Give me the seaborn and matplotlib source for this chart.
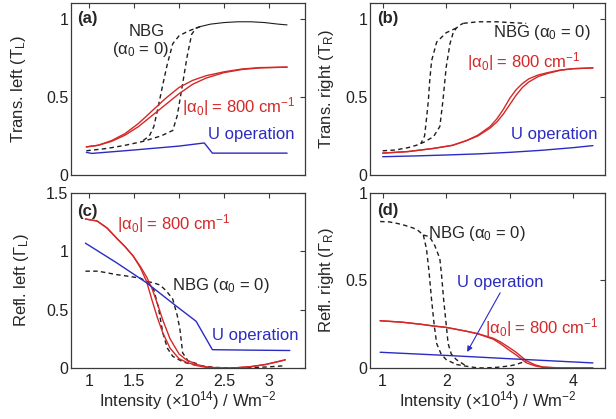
import matplotlib

matplotlib.use("Agg")

import matplotlib.pyplot as plt
import seaborn as sns

# -----------------------------
# Style
# -----------------------------
sns.set_style("white")
plt.rcParams["font.family"] = ["Liberation Sans", "DejaVu Sans"]
plt.rcParams["mathtext.fontset"] = "custom"
plt.rcParams["mathtext.rm"] = "Liberation Sans"
plt.rcParams["mathtext.it"] = "Liberation Sans:italic"
plt.rcParams["mathtext.bf"] = "Liberation Sans:bold"
plt.rcParams["mathtext.default"] = "regular"

RED = "#d42828"
BLUE = "#2b2bc4"
BLACK = "#1e1e1e"
FRAME = "#3a3a3a"

# -----------------------------
# Data
# -----------------------------
# (a) transmission left
a_nbg_up_x = [0.97, 1.2, 1.4, 1.6, 1.8, 1.93, 1.98, 2.04, 2.09, 2.14, 2.19, 2.24]
a_nbg_up_y = [0.155, 0.17, 0.19, 0.215, 0.25, 0.285, 0.38, 0.585, 0.76, 0.90, 0.94, 0.95]
a_nbg_dn_x = [2.24, 2.1, 2.0, 1.93, 1.87, 1.82, 1.77, 1.72, 1.67, 1.6]
a_nbg_dn_y = [0.95, 0.92, 0.89, 0.84, 0.71, 0.58, 0.44, 0.31, 0.25, 0.22]
a_nbg_top_x = [2.24, 2.35, 2.5, 2.65, 2.8, 2.95, 3.1, 3.2]
a_nbg_top_y = [0.95, 0.965, 0.975, 0.98, 0.98, 0.975, 0.965, 0.96]
a_red_x = [0.97, 1.1, 1.25, 1.4, 1.55, 1.7, 1.85, 2.0, 2.15, 2.3, 2.5, 2.7, 2.9, 3.2]
a_red_up_y = [0.18, 0.19, 0.215, 0.255, 0.31, 0.38, 0.45, 0.52, 0.58, 0.62, 0.655, 0.675, 0.685, 0.69]
a_red_dn_y = [0.18, 0.19, 0.22, 0.265, 0.33, 0.41, 0.49, 0.56, 0.605, 0.635, 0.66, 0.678, 0.687, 0.69]
a_blue_x = [0.97, 1.03, 1.5, 2.0, 2.28, 2.37, 2.8, 3.2]
a_blue_y = [0.145, 0.138, 0.16, 0.185, 0.205, 0.14, 0.14, 0.14]

# (b) transmission right
b_nbg_up_x = [1.0, 1.2, 1.4, 1.53, 1.65, 1.8, 1.9, 1.95, 2.0, 2.06, 2.11, 2.16, 2.22, 2.27]
b_nbg_up_y = [0.155, 0.16, 0.175, 0.19, 0.21, 0.245, 0.31, 0.48, 0.69, 0.84, 0.91, 0.94, 0.96, 0.97]
b_nbg_dn_x = [2.16, 2.0, 1.85, 1.77, 1.74, 1.72, 1.69, 1.66, 1.6]
b_nbg_dn_y = [0.94, 0.91, 0.85, 0.73, 0.6, 0.48, 0.36, 0.25, 0.2]
b_nbg_top_x = [2.27, 2.5, 2.8, 3.0, 3.26]
b_nbg_top_y = [0.97, 0.98, 0.98, 0.975, 0.97]
b_red_x = [1.0, 1.4, 1.8, 2.1, 2.32, 2.5, 2.69, 2.8, 2.9, 3.0, 3.1, 3.2, 3.3, 3.45, 3.6, 3.8, 4.0, 4.31]
b_red_up_y = [0.14, 0.15, 0.17, 0.19, 0.22, 0.25, 0.30, 0.34, 0.39, 0.45, 0.51, 0.56, 0.595, 0.63, 0.65, 0.67, 0.68, 0.685]
b_red_dn_y = [0.14, 0.15, 0.17, 0.19, 0.22, 0.255, 0.31, 0.36, 0.42, 0.49, 0.545, 0.585, 0.615, 0.64, 0.655, 0.672, 0.68, 0.685]
b_blue_x = [1.0, 1.5, 2.0, 2.5, 3.0, 3.5, 4.0, 4.31]
b_blue_y = [0.117, 0.122, 0.128, 0.135, 0.145, 0.158, 0.175, 0.188]

# (c) reflection left
c_red_x = [0.96, 1.09, 1.2, 1.31, 1.4, 1.49, 1.57, 1.64, 1.7, 1.76, 1.82, 1.9, 2.0, 2.08, 2.2, 2.3,
           2.45, 2.6, 2.8, 2.96, 3.1, 3.18]
c_red_up_y = [1.277, 1.26, 1.2, 1.11, 1.04, 0.96, 0.86, 0.74, 0.58, 0.43, 0.30, 0.17, 0.08, 0.05,
              0.02, 0.006, 0.0, 0.0, 0.012, 0.03, 0.055, 0.07]
c_red_dn_y = [1.277, 1.26, 1.2, 1.11, 1.04, 0.96, 0.87, 0.78, 0.68, 0.55, 0.41, 0.25, 0.12, 0.07,
              0.03, 0.01, 0.0, 0.0, 0.012, 0.03, 0.055, 0.07]
c_blue_x = [0.96, 1.31, 1.64, 1.97, 2.19, 2.37, 2.8, 3.23]
c_blue_y = [1.07, 0.90, 0.73, 0.53, 0.40, 0.157, 0.153, 0.15]
c_nbg_x = [0.96, 1.1, 1.31, 1.45, 1.57, 1.65]
c_nbg_y = [0.83, 0.83, 0.80, 0.785, 0.77, 0.74]
c_nbg_a_x = [1.65, 1.72, 1.77, 1.82, 1.87, 1.93, 2.05, 2.15]
c_nbg_a_y = [0.74, 0.67, 0.52, 0.30, 0.17, 0.10, 0.05, 0.03]
c_nbg_b_x = [1.65, 1.72, 1.79, 1.86, 1.93, 1.98, 2.01, 2.04, 2.1, 2.23]
c_nbg_b_y = [0.74, 0.73, 0.71, 0.66, 0.59, 0.45, 0.33, 0.13, 0.06, 0.03]
c_nbg_tail_x = [2.15, 2.23, 2.4, 2.6, 2.8, 3.0, 3.18]
c_nbg_tail_y = [0.03, 0.02, 0.005, 0.0, 0.003, 0.01, 0.02]

# (d) reflection right
d_nbg_x = [0.96, 1.1, 1.22, 1.35, 1.48, 1.56, 1.64]
d_nbg_y = [0.837, 0.835, 0.827, 0.815, 0.80, 0.785, 0.76]
d_nbg_a_x = [1.64, 1.69, 1.73, 1.77, 1.81, 1.85, 1.92, 2.0, 2.16]
d_nbg_a_y = [0.76, 0.68, 0.55, 0.39, 0.25, 0.14, 0.08, 0.048, 0.02]
d_nbg_b_x = [1.64, 1.74, 1.82, 1.90, 1.93, 1.96, 2.0, 2.03, 2.08, 2.16, 2.32]
d_nbg_b_y = [0.76, 0.75, 0.70, 0.625, 0.52, 0.39, 0.25, 0.14, 0.08, 0.048, 0.01]
d_nbg_tail_x = [2.16, 2.32, 2.45, 2.58, 2.8, 3.0, 3.1, 3.26]
d_nbg_tail_y = [0.02, 0.01, 0.003, 0.0, 0.004, 0.012, 0.02, 0.04]
d_red_x = [0.96, 1.3, 1.6, 1.8, 2.0, 2.32, 2.5, 2.74, 2.85, 3.0, 3.1, 3.26, 3.4, 3.52, 3.8, 4.31]
d_red_up_y = [0.27, 0.262, 0.25, 0.24, 0.232, 0.21, 0.195, 0.165, 0.14, 0.10, 0.075, 0.03, 0.012,
              0.004, 0.0, 0.0]
d_red_dn_y = [0.27, 0.262, 0.25, 0.24, 0.232, 0.21, 0.196, 0.17, 0.15, 0.115, 0.09, 0.042, 0.018,
              0.006, 0.0, 0.0]
d_blue_x = [0.96, 2.0, 3.0, 4.31]
d_blue_y = [0.09, 0.072, 0.053, 0.029]

# axis ticks / labels
xticks_left = [1, 1.5, 2, 2.5, 3]
xticks_right = [1, 2, 3, 4]
yticks_trans = [0, 0.5, 1]
yticks_refl_left = [0, 0.5, 1, 1.5]
yticks_refl_right = [0, 0.5, 1]

XLABEL = "Intensity (×10$^{14}$) / Wm$^{-2}$"
NBG = "NBG (α$_{0}$ = 0)"
ALPHA = "|α$_{0}$| = 800 cm$^{-1}$"
UOP = "U operation"


def line(ax, x, y, color, lw=1.0, dashed=False):
    sns.lineplot(x=x, y=y, ax=ax, color=color, lw=lw, sort=False, estimator=None)
    ln = ax.lines[-1]
    if dashed:
        ln.set_dashes((3.2, 2.4))
    return ln


def style(ax, xlim, ylim, xt, yt, ylabel, xlabel=None, ylab_x=-0.17):
    ax.set_xlim(*xlim)
    ax.set_ylim(*ylim)
    ax.set_xticks(xt)
    ax.set_yticks(yt)
    ax.set_yticklabels([f"{v:g}" for v in yt])
    if xlabel:
        ax.set_xticklabels([f"{v:g}" for v in xt])
        ax.set_xlabel(xlabel, fontsize=12)
        ax.xaxis.set_label_coords(0.5, -0.118)
    else:
        ax.set_xticklabels([])
    ax.set_ylabel(ylabel, fontsize=12)
    ax.yaxis.set_label_coords(ylab_x, 0.5)
    ax.tick_params(direction="in", top=True, right=True, length=3.5, width=0.8,
                   color=FRAME, labelsize=11.5, labelcolor="#222222")
    ax.tick_params(axis="x", pad=4)
    ax.tick_params(axis="y", pad=2)
    for s in ax.spines.values():
        s.set_color(FRAME)
        s.set_linewidth(0.9)


fig = plt.figure(figsize=(6.16, 4.19), dpi=100)
ax_a = fig.add_axes([0.1153, 0.5823, 0.380, 0.4105])
ax_b = fig.add_axes([0.6006, 0.5823, 0.3815, 0.4105])
ax_c = fig.add_axes([0.1153, 0.1217, 0.380, 0.4177])
ax_d = fig.add_axes([0.6006, 0.1217, 0.3815, 0.4177])

# ---- (a)
line(ax_a, a_nbg_up_x, a_nbg_up_y, BLACK, dashed=True)
line(ax_a, a_nbg_dn_x, a_nbg_dn_y, BLACK, dashed=True)
line(ax_a, a_nbg_top_x, a_nbg_top_y, BLACK, lw=0.8)
line(ax_a, a_red_x, a_red_up_y, RED)
line(ax_a, a_red_x, a_red_dn_y, RED)
line(ax_a, a_blue_x, a_blue_y, BLUE)
style(ax_a, (0.8, 3.4), (0, 1.1), xticks_left, yticks_trans,
      "Trans. left (T$_{L}$)", ylab_x=-0.184)
ax_a.text(0.865, 1.0, "(a)", fontsize=12, fontweight="bold", va="center")
ax_a.text(1.64, 0.915, "NBG", fontsize=12, ha="center", va="center")
ax_a.text(1.57, 0.80, "(α$_{0}$ = 0)", fontsize=12, ha="center", va="center")
ax_a.text(2.03, 0.435, ALPHA, fontsize=12, color=RED, va="center")
ax_a.text(2.32, 0.256, UOP, fontsize=12, color=BLUE, va="center")

# ---- (b)
line(ax_b, b_nbg_up_x, b_nbg_up_y, BLACK, dashed=True)
line(ax_b, b_nbg_dn_x, b_nbg_dn_y, BLACK, dashed=True)
line(ax_b, b_nbg_top_x, b_nbg_top_y, BLACK, dashed=True)
line(ax_b, b_red_x, b_red_up_y, RED)
line(ax_b, b_red_x, b_red_dn_y, RED)
line(ax_b, b_blue_x, b_blue_y, BLUE)
style(ax_b, (0.8, 4.5), (0, 1.1), xticks_right, yticks_trans,
      "Trans. right (T$_{R}$)", ylab_x=-0.145)
ax_b.text(0.91, 1.0, "(b)", fontsize=12, fontweight="bold", va="center")
ax_b.text(2.74, 0.91, NBG, fontsize=12, va="center")
ax_b.text(2.33, 0.725, ALPHA, fontsize=12, color=RED, va="center")
ax_b.text(3.02, 0.256, UOP, fontsize=12, color=BLUE, va="center")

# ---- (c)
line(ax_c, c_nbg_x, c_nbg_y, BLACK, dashed=True)
line(ax_c, c_nbg_a_x, c_nbg_a_y, BLACK, dashed=True)
line(ax_c, c_nbg_b_x, c_nbg_b_y, BLACK, dashed=True)
line(ax_c, c_nbg_tail_x, c_nbg_tail_y, BLACK, dashed=True)
line(ax_c, c_red_x, c_red_up_y, RED)
line(ax_c, c_red_x, c_red_dn_y, RED)
line(ax_c, c_blue_x, c_blue_y, BLUE)
style(ax_c, (0.8, 3.4), (0, 1.5), xticks_left, yticks_refl_left,
      "Refl. left (Γ$_{L}$)", xlabel=XLABEL, ylab_x=-0.171)
ax_c.text(0.865, 1.345, "(c)", fontsize=12, fontweight="bold", va="center")
ax_c.text(1.31, 1.24, ALPHA, fontsize=12, color=RED, va="center")
ax_c.text(1.92, 0.71, NBG, fontsize=12, va="center")
ax_c.text(2.37, 0.28, UOP, fontsize=12, color=BLUE, va="center")

# ---- (d)
line(ax_d, d_nbg_x, d_nbg_y, BLACK, dashed=True)
line(ax_d, d_nbg_a_x, d_nbg_a_y, BLACK, dashed=True)
line(ax_d, d_nbg_b_x, d_nbg_b_y, BLACK, dashed=True)
line(ax_d, d_nbg_tail_x, d_nbg_tail_y, BLACK, dashed=True)
line(ax_d, d_red_x, d_red_up_y, RED)
line(ax_d, d_red_x, d_red_dn_y, RED)
line(ax_d, d_blue_x, d_blue_y, BLUE)
style(ax_d, (0.8, 4.5), (0, 1), xticks_right, yticks_refl_right,
      "Refl. right (Γ$_{R}$)", xlabel=XLABEL, ylab_x=-0.145)
ax_d.text(0.92, 0.90, "(d)", fontsize=12, fontweight="bold", va="center")
ax_d.text(1.71, 0.77, NBG, fontsize=12, va="center")
ax_d.text(2.17, 0.486, UOP, fontsize=12, color=BLUE, va="center")
ax_d.text(2.61, 0.229, ALPHA, fontsize=12, color=RED, va="center")
ax_d.annotate("", xy=(2.33, 0.092), xytext=(2.85, 0.43),
              arrowprops=dict(arrowstyle="-|>", color=BLUE, lw=0.8,
                              mutation_scale=8, shrinkA=0, shrinkB=0))

fig.savefig("out.png", dpi=100)
plt.close(fig)
